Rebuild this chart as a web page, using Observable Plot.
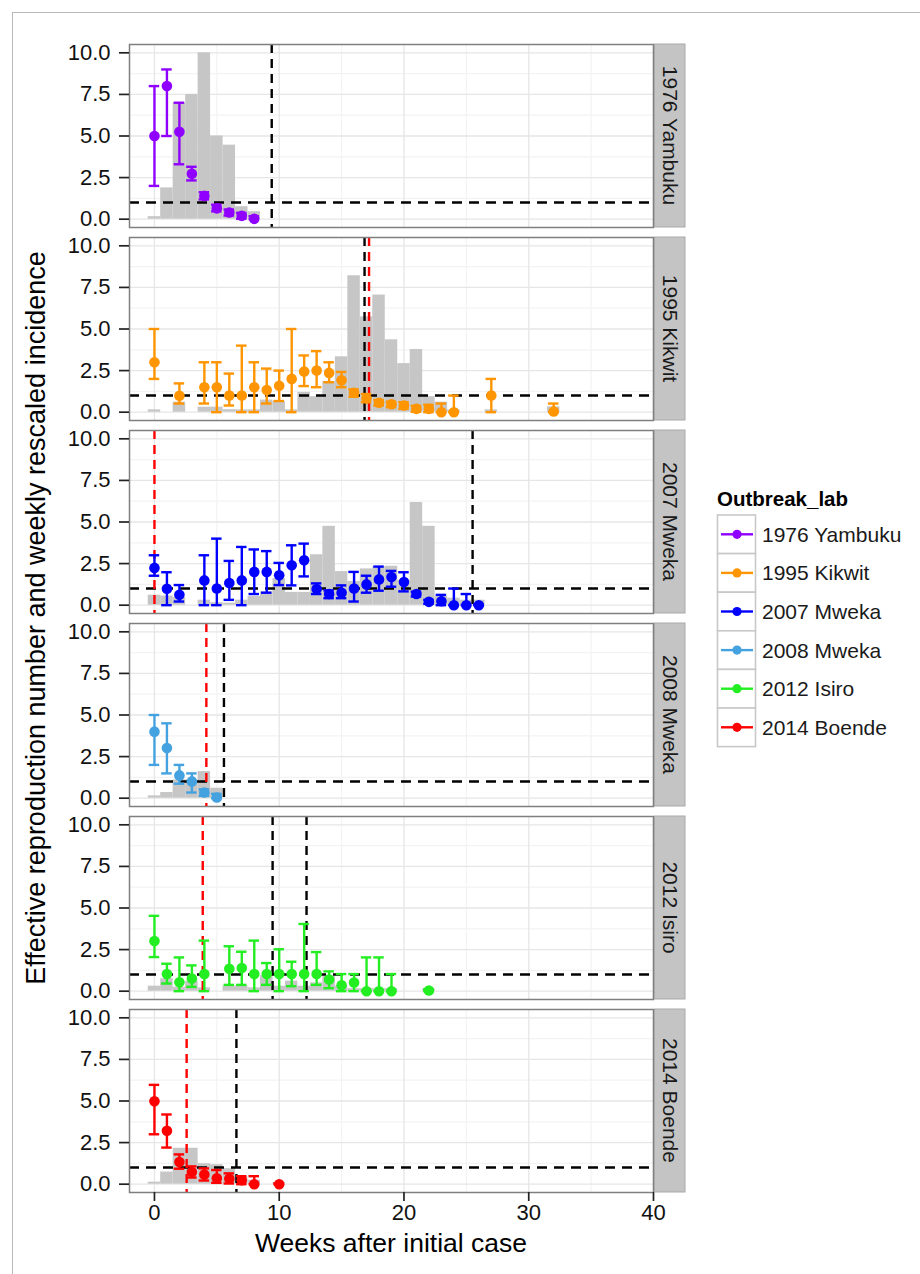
<!DOCTYPE html>
<html><head><meta charset="utf-8">
<script src="https://cdn.jsdelivr.net/npm/d3@7"></script>
<script src="https://cdn.jsdelivr.net/npm/@observablehq/plot@0.6"></script>
<style>
body{margin:0;background:#fff;}
#wrap{position:relative;width:920px;height:1274px;overflow:hidden;background:#fff;}
#frame{position:absolute;left:12px;top:12px;width:930px;height:1290px;border-left:1.5px solid #b8b8b8;border-top:1.5px solid #b8b8b8;}
#chart{position:absolute;left:0;top:0;}
</style></head><body><div id="wrap"><div id="frame"></div><div id="chart"></div></div>
<script>
// ---------- data ----------
const outbreaks = ["1976 Yambuku","1995 Kikwit","2007 Mweka","2008 Mweka","2012 Isiro","2014 Boende"];
const colors = ["#9000ff","#ff9500","#0000ff","#45a2e0","#22ee22","#ff0000"];
const xTicks = [0,10,20,30,40];
const yTicks = [0,2.5,5,7.5,10];

// Effective reproduction number (mean, lower, upper) by week
const yambukuWeeks = [0,1,2,3,4,5,6,7,8];
const yambukuR    = [5.0,8.0,5.25,2.73,1.4,0.65,0.4,0.2,0.02];
const yambukuLo   = [2.0,5.0,3.3,2.33,1.19,0.47,0.22,0.02,0.0];
const yambukuHi   = [8.0,9.0,7.0,3.15,1.62,0.87,0.58,0.38,0.18];
const yambukuInc  = [0.15,1.88,7.0,7.5,10.0,5.0,4.45,0.75,0.45];

const kikwitWeeks = [0,2,4,5,6,7,8,9,10,11,12,13,14,15,16,17,18,19,20,21,22,23,24,27,32];
const kikwitR     = [3.0,0.99,1.5,1.5,1.0,1.0,1.5,1.33,1.59,2.0,2.44,2.5,2.36,1.92,1.17,0.83,0.56,0.48,0.4,0.2,0.2,0.0,0.0,1.0,0.04];
const kikwitLo    = [2.0,0.52,0.52,0,0.4,0,0,0.52,0.67,0,1.57,1.5,1.8,1.5,0.93,0.6,0.4,0.3,0.2,0.02,0,0,0,0,0];
const kikwitHi    = [5.0,1.73,3.0,3.0,2.32,4.0,3.0,2.62,2.5,5.0,3.41,3.67,3.0,2.42,1.37,1.09,0.73,0.63,0.6,0.38,0.44,0.52,1.0,2.0,0.52];
const kikwitInc   = [0.14,0.6,0.3,0.3,0.15,0.14,0.14,0.73,0.63,0.14,1.19,0.93,1.85,3.33,8.2,5.73,7.04,4.35,2.92,3.77,0.93,0.6,0.14,0.14,0.32];

const mweka07Weeks = [0,1,2,4,5,6,7,8,9,10,11,12,13,14,15,16,17,18,19,20,21,22,23,24,25,26];
const mweka07R     = [2.24,0.99,0.63,1.49,1.0,1.33,1.49,2.0,2.0,1.8,2.4,2.7,0.97,0.67,0.75,1.0,1.25,1.55,1.69,1.39,0.67,0.2,0.24,0.0,0.0,0.0];
const mweka07Lo    = [1.77,0,0.22,0,0,0.32,0,0.67,0.75,1.21,1.19,1.73,0.67,0.42,0.42,0.22,0.75,0.87,1.11,0.83,0.52,0.08,0,0,0,0];
const mweka07Hi    = [3.0,1.98,1.21,3.0,4.0,2.66,3.5,3.35,3.25,2.54,3.6,3.7,1.31,0.89,1.19,2.0,1.77,2.32,2.06,1.98,0.81,0.32,0.62,1.0,0.67,0.05];
const mweka07Inc   = [0.6,0.55,0.45,0.3,0.15,0.12,0.3,0.52,0.8,1.6,0.77,0.77,3.03,4.74,2.02,1.43,2.18,2.3,2.34,1.5,6.17,4.74,0.52,0.42,0.3,0.3];

const mweka08Weeks = [0,1,2,3,4,5];
const mweka08R     = [4.0,3.01,1.37,1.01,0.34,0.04];
const mweka08Lo    = [2.0,1.49,0.87,0.34,0.14,0];
const mweka08Hi    = [5.0,4.5,2.0,1.49,0.53,0.26];
const mweka08Inc   = [0.14,0.34,1.1,1.1,1.6,0.6];

const isiroWeeks = [0,1,2,3,4,6,7,8,9,10,11,12,13,14,15,16,17,18,19,22];
const isiroR     = [3.02,1.03,0.54,0.76,1.03,1.35,1.39,1.03,1.03,1.03,1.03,1.03,1.03,0.7,0.36,0.52,0,0,0,0.04];
const isiroLo    = [2.05,0.46,0,0.26,0,0.38,0.38,0,0.38,0,0.3,0,0.38,0.18,0,0,0,0,0,0];
const isiroHi    = [4.53,1.65,2.03,1.55,3.04,2.7,2.37,3.04,1.69,2.52,1.77,4.04,2.35,1.19,1.03,1.03,2.03,2.03,1.03,0.1];
const isiroInc   = [0.3,0.75,0.24,0.6,0.2,0.3,0.3,0.2,0.93,0.3,0.6,0.3,0.5,0.9,0.3,0.15,0.15,0.15,0.15,0.15];

const boendeWeeks = [0,1,2,3,4,5,6,7,8,10];
const boendeR     = [4.98,3.21,1.33,0.73,0.58,0.36,0.32,0.24,0,0];
const boendeLo    = [3.0,2.2,0.93,0.4,0.22,0.08,0.04,0,0,0];
const boendeHi    = [5.97,4.19,1.79,1.07,0.95,0.85,0.65,0.48,0.48,0.05];
const boendeInc   = [0.12,0.73,2.16,2.16,1.23,1.17,0.93,0.44,0.24,0.1];

// dashed vertical reference lines (weeks)
const blackLineOutbreak = ["1976 Yambuku","1995 Kikwit","2007 Mweka","2008 Mweka","2012 Isiro","2012 Isiro","2014 Boende"];
const blackLineWeek     = [9.4,16.84,25.5,5.57,9.47,12.19,6.57];
const redLineOutbreak   = ["1995 Kikwit","2007 Mweka","2008 Mweka","2012 Isiro","2014 Boende"];
const redLineWeek       = [17.2,0,4.16,3.87,2.58];

// ---------- tables ----------
const series = [
  [yambukuWeeks,yambukuR,yambukuLo,yambukuHi,yambukuInc],
  [kikwitWeeks,kikwitR,kikwitLo,kikwitHi,kikwitInc],
  [mweka07Weeks,mweka07R,mweka07Lo,mweka07Hi,mweka07Inc],
  [mweka08Weeks,mweka08R,mweka08Lo,mweka08Hi,mweka08Inc],
  [isiroWeeks,isiroR,isiroLo,isiroHi,isiroInc],
  [boendeWeeks,boendeR,boendeLo,boendeHi,boendeInc]
];
const rData = [], bars = [];
series.forEach(([w,r,lo,hi,inc],k) => {
  w.forEach((wk,i) => {
    rData.push({outbreak: outbreaks[k], w: wk, r: r[i], lo: lo[i], hi: hi[i]});
    bars.push({outbreak: outbreaks[k], w: wk, v: inc[i]});
  });
});
const vBlack = blackLineWeek.map((w,i) => ({outbreak: blackLineOutbreak[i], w}));
const vRed = redLineWeek.map((w,i) => ({outbreak: redLineOutbreak[i], w}));

// ---------- plot ----------
const FONT = "'Liberation Sans', Arial, Helvetica, sans-serif";
const capHalf = 0.42;
const lw = 2.4;
const plot = Plot.plot({
  width: 920, height: 1274,
  marginLeft: 129, marginRight: 267, marginTop: 43, marginBottom: 81,
  style: {fontFamily: FONT, fontSize: "22px", color: "#111", background: "transparent", overflow: "visible"},
  x: {domain: [-2, 40], axis: null},
  y: {domain: [-0.5, 10.5], axis: null},
  fy: {domain: outbreaks, padding: 0.0518, axis: null, label: null},
  color: {domain: outbreaks, range: colors},
  marks: [
    Plot.gridX({ticks: [5,15,25,35], stroke: "#f3f3f3", strokeOpacity: 1, strokeWidth: 1.2}),
    Plot.gridY({ticks: [1.25,3.75,6.25,8.75], stroke: "#f3f3f3", strokeOpacity: 1, strokeWidth: 1.2}),
    Plot.gridX({ticks: xTicks, stroke: "#e6e6e6", strokeOpacity: 1, strokeWidth: 1.3}),
    Plot.gridY({ticks: yTicks, stroke: "#e6e6e6", strokeOpacity: 1, strokeWidth: 1.3}),
    Plot.rectY(bars, {x1: d => d.w - 0.5, x2: d => d.w + 0.5, y: "v", fy: "outbreak", fill: "#c6c6c6"}),
    Plot.ruleY([1], {stroke: "black", strokeWidth: 2.4, strokeDasharray: "10,7"}),
    Plot.ruleX(vBlack, {x: "w", fy: "outbreak", stroke: "black", strokeWidth: 2.4, strokeDasharray: "9,6"}),
    Plot.ruleX(vRed, {x: "w", fy: "outbreak", stroke: "#ff0000", strokeWidth: 2.4, strokeDasharray: "9,6"}),
    Plot.ruleX(rData, {x: "w", y1: "lo", y2: "hi", fy: "outbreak", stroke: "outbreak", strokeWidth: lw}),
    Plot.ruleY(rData, {y: "hi", x1: d => d.w - capHalf, x2: d => d.w + capHalf, fy: "outbreak", stroke: "outbreak", strokeWidth: lw}),
    Plot.ruleY(rData, {y: "lo", x1: d => d.w - capHalf, x2: d => d.w + capHalf, fy: "outbreak", stroke: "outbreak", strokeWidth: lw}),
    Plot.dot(rData, {x: "w", y: "r", fy: "outbreak", fill: "outbreak", r: 5.3}),
    Plot.frame({stroke: "#7f7f7f", strokeWidth: 1.5}),
    Plot.axisY({ticks: yTicks, tickFormat: d3.format(".1f"), tickSize: 10, tickPadding: 9, fontSize: 22, stroke: "#222", strokeWidth: 1.7, label: null}),
    Plot.axisX({ticks: xTicks, tickSize: 9, tickPadding: 3, fontSize: 22, stroke: "#222", strokeWidth: 1.7, label: null})
  ]
});
document.getElementById("chart").appendChild(plot);

// ---------- facet strips, titles, legend ----------
const svg = d3.select(plot);
const fy = plot.scale("fy");
const xs = plot.scale("x");
const xRight = xs.apply(40), xLeft = xs.apply(-2);
outbreaks.forEach(o => {
  const top = fy.apply(o), bw = fy.bandwidth;
  svg.append("rect").attr("x", xRight + 1.5).attr("y", top).attr("width", 30.5).attr("height", bw)
    .attr("fill", "#c4c4c4").attr("stroke", "#a9a9a9").attr("stroke-width", 1);
  svg.append("text").attr("transform", `translate(${xRight + 17},${top + bw / 2}) rotate(90)`)
    .attr("text-anchor", "middle").attr("dominant-baseline", "central")
    .attr("font-family", FONT).attr("font-size", 21).attr("fill", "#1a1a1a").text(o);
});
const top0 = fy.apply(outbreaks[0]);
const bot = fy.apply(outbreaks[5]) + fy.bandwidth;
svg.append("text").attr("transform", `translate(45,${(top0 + bot) / 2}) rotate(-90)`)
  .attr("text-anchor", "middle").attr("font-family", FONT).attr("font-size", 27).attr("fill", "#000")
  .text("Effective reproduction number and weekly rescaled incidence");
svg.append("text").attr("x", (xLeft + xRight) / 2).attr("y", 1252)
  .attr("text-anchor", "middle").attr("font-family", FONT).attr("font-size", 26.5).attr("fill", "#000")
  .text("Weeks after initial case");

const lg = svg.append("g").attr("text-anchor", "start");
lg.append("text").attr("x", 717).attr("y", 506).attr("text-anchor", "start").attr("font-family", FONT).attr("font-size", 20.5)
  .attr("font-weight", "bold").attr("fill", "#000").text("Outbreak_lab");
outbreaks.forEach((o, i) => {
  const y0 = 515 + i * 38.6;
  lg.append("rect").attr("x", 717.5).attr("y", y0).attr("width", 38).attr("height", 38.6)
    .attr("fill", "#fff").attr("stroke", "#c8c8c8").attr("stroke-width", 1.6);
  lg.append("line").attr("x1", 721).attr("x2", 753).attr("y1", y0 + 19.3).attr("y2", y0 + 19.3)
    .attr("stroke", colors[i]).attr("stroke-width", lw);
  lg.append("circle").attr("cx", 737).attr("cy", y0 + 19.3).attr("r", 4.6).attr("fill", colors[i]);
  lg.append("text").attr("x", 762).attr("y", y0 + 19.3).attr("text-anchor", "start").attr("dominant-baseline", "central")
    .attr("font-family", FONT).attr("font-size", 21).attr("fill", "#1a1a1a").text(o);
});
</script></body></html>
